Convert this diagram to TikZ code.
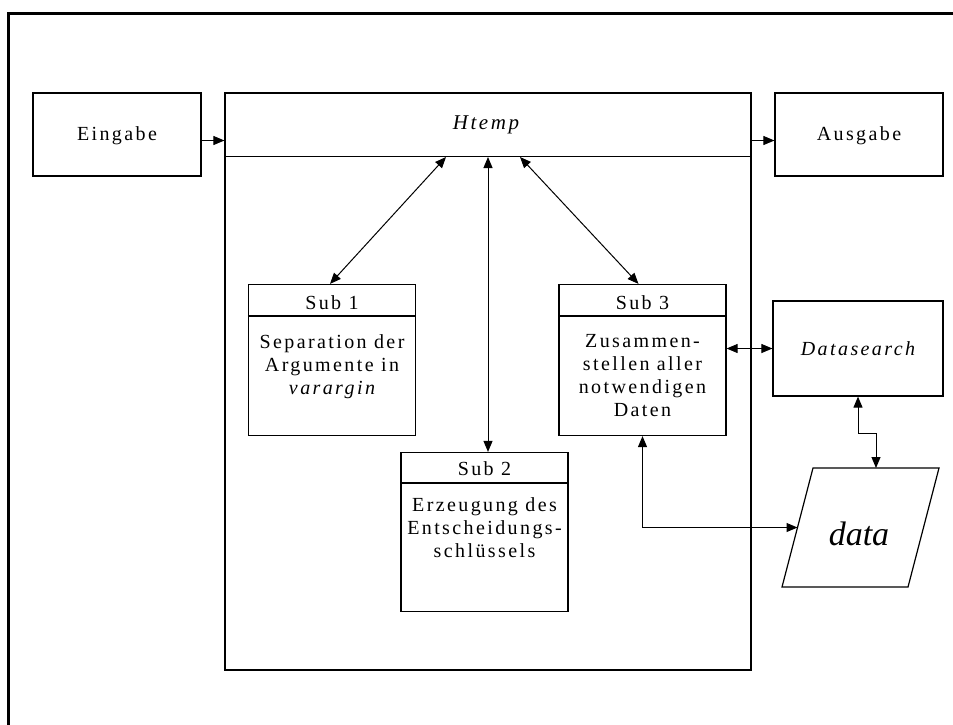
\documentclass[tikz,border=0pt]{standalone}
\usepackage{fontspec}
\setmainfont{Liberation Serif}[LetterSpace=12]
\usepackage{tikz}
\usetikzlibrary{arrows.meta,positioning,calc}

\begin{document}
\begin{tikzpicture}[x=1pt, y=-1pt, >={Triangle[length=11pt,width=9pt]},
    box/.style={draw, line width=1.2pt, rectangle, inner sep=0pt},
    label/.style={inner sep=0pt, align=center, font=\fontsize{20}{23}\selectfont},
    conn/.style={line width=1pt}]
    \useasboundingbox (0,0) rectangle (953,724);
    % Frame
    \coordinate (frameBL) at (8,726);
    \coordinate (frameTL) at (8,13);
    \coordinate (frameTR) at (953,13);
    \draw[line width=3pt] (frameBL) -- (frameTL) -- (frameTR);
    % Nodes
    \node[box, minimum width=168pt, minimum height=83pt] (eingabe) at (117,134.5) {};
    \node[label] (eingabeT) at (117,136) {Eingabe};
    \node[box, minimum width=526pt, minimum height=577pt] (htemp) at (488,381.5) {};
    \coordinate (hdrL) at ($(htemp.north west)+(0,64)$);
    \coordinate (hdrR) at ($(htemp.north east)+(0,64)$);
    \draw[line width=1.2pt] (hdrL) -- (hdrR);
    \node[label, font=\fontsize{21}{23}\selectfont\itshape] (htempT) at (486,125) {Htemp};
    \node[box, minimum width=168pt, minimum height=83pt] (ausgabe) at (859,134.5) {};
    \node[label] (ausgabeT) at (859,136) {Ausgabe};
    % Sub boxes
    \node[box, minimum width=167pt, minimum height=151pt] (sub1) at (332,360) {};
    \draw[line width=1.2pt] ($(sub1.north west)+(0,32)$) -- ($(sub1.north east)+(0,32)$);
    \node[label, anchor=base] (sub1T) at ($(sub1.north)+(0,26)$) {Sub 1};
    \node[label, anchor=north] (sub1B) at ($(sub1.north)+(0,51)$) {Separation der\\Argumente in\\\itshape varargin};
    \node[box, minimum width=167pt, minimum height=159pt] (sub2) at (484.5,532) {};
    \draw[line width=1.2pt] ($(sub2.north west)+(0,31)$) -- ($(sub2.north east)+(0,31)$);
    \node[label, anchor=base] (sub2T) at ($(sub2.north)+(0,24)$) {Sub 2};
    \node[label, anchor=north] (sub2B) at ($(sub2.north)+(0,46)$) {Erzeugung des\\Entscheidungs-\\schlüssels};
    \node[box, minimum width=167pt, minimum height=151pt] (sub3) at (642.5,360) {};
    \draw[line width=1.2pt] ($(sub3.north west)+(0,32)$) -- ($(sub3.north east)+(0,32)$);
    \node[label, anchor=base] (sub3T) at ($(sub3.north)+(0,26)$) {Sub 3};
    \node[label, anchor=north] (sub3B) at ($(sub3.north)+(0,50)$) {Zusammen-\\stellen aller\\notwendigen\\Daten};
    % Datasearch and data
    \node[box, minimum width=170pt, minimum height=95pt] (datasearch) at (858,348.5) {};
    \node[label] (datasearchT) at (858,349) {\itshape Datasearch};
    \node[inner sep=0pt, anchor=base, font=\fontsize{34}{40}\selectfont\itshape\addfontfeature{LetterSpace=0}] (data) at (859,545) {data};
    \coordinate (dataNW) at (813,468);
    \coordinate (dataNE) at (939,468);
    \coordinate (dataSE) at (908,587);
    \coordinate (dataSW) at (782,587);
    \coordinate (dataN) at ($(dataNW)!0.5!(dataNE)$);
    \coordinate (dataW) at ($(dataNW)!0.5!(dataSW)$);
    \draw[line width=1.2pt] (dataNW) -- (dataNE) -- (dataSE) -- (dataSW) -- cycle;
    % Arrows
    \coordinate (h1) at (446,157);
    \coordinate (h2) at (488,157);
    \coordinate (h3) at (520,157);
    \draw[conn, ->] ([yshift=-6pt]eingabe.east) -- ([yshift=-6pt]eingabe.east -| htemp.west);
    \draw[conn, ->] ([yshift=-6pt]ausgabe.west -| htemp.east) -- ([yshift=-6pt]ausgabe.west);
    \draw[conn, <->] ([xshift=-2pt]sub1.north) -- (h1);
    \draw[conn, <->] (h2 |- sub2.north) -- (h2);
    \draw[conn, <->] ([xshift=-4pt]sub3.north) -- (h3);
    \draw[conn, <->] (sub3.east |- datasearch.west) -- (datasearch.west);
    \draw[conn, <->] (datasearch.south) -- ++(0,37) -| (dataN);
    \draw[conn, <->] (sub3.south) |- (dataW);
\end{tikzpicture}
\end{document}
